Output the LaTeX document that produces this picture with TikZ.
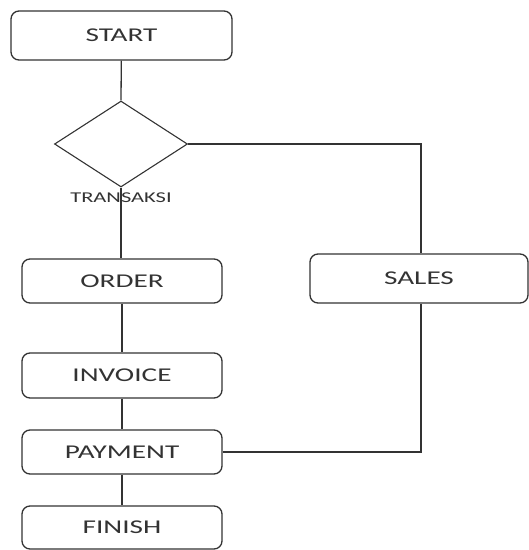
\documentclass[tikz,border=0pt]{standalone}
\usepackage{fontspec}
\setmainfont{Carlito}[FakeStretch=1.5]
\usepackage{tikz}
\usetikzlibrary{positioning, shapes.geometric}
\usepackage{xcolor}
\definecolor{lineclr}{HTML}{333333}
\definecolor{txtclr}{HTML}{333333}

\begin{document}
\begin{tikzpicture}[x=1pt, y=-1pt,
  box/.style={draw=lineclr, line width=1.3pt, rounded corners=8pt, inner sep=0pt,
    text=txtclr, font=\fontsize{19.5}{21}\selectfont},
  decide/.style={draw=lineclr, line width=1.1pt, diamond, inner sep=0pt,
    minimum width=133pt, minimum height=86pt},
  link/.style={draw=lineclr, line width=1.3pt}]
  \useasboundingbox (0,0) rectangle (529,550);

  % Boxes
  \node[box, minimum width=221pt, minimum height=49pt] (start) at (121.5,35.5) {START};
  \node[decide] (trans) at (121,144) {};
  \node[text=txtclr, font=\fontsize{15}{17}\selectfont] (translbl) at (121,197.5) {TRANSAKSI};
  \node[box, minimum width=200pt, minimum height=44pt] (order) at (122,281) {ORDER};
  \node[box, minimum width=200pt, minimum height=45pt] (invoice) at (122,375.5) {INVOICE};
  \node[box, minimum width=200pt, minimum height=44pt] (payment) at (122,452) {PAYMENT};
  \node[box, minimum width=200pt, minimum height=43pt] (finish) at (122,527.5) {FINISH};
  \node[box, minimum width=218pt, minimum height=49pt] (sales) at (419,278.5) {SALES};

  % Lines
  \coordinate (corner1) at (421,144);
  \coordinate (corner2) at (421,452);
  \draw[link] (start) -- (trans.north);
  \draw[link] (trans.south) -- (trans.south |- order.north);
  \draw[link] (trans.east) -- (corner1) -- (corner1 |- sales.north);
  \draw[link] (corner2 |- sales.south) -- (corner2) -- (payment.east);
  \draw[link] (order) -- (invoice);
  \draw[link] (invoice) -- (payment);
  \draw[link] (payment) -- (finish);
\end{tikzpicture}
\end{document}
